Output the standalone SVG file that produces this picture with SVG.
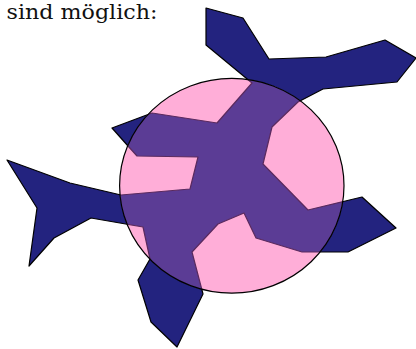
<svg xmlns="http://www.w3.org/2000/svg" width="416" height="349" viewBox="0 0 416 349">
<style>
.lbl{font-family:"DejaVu Serif","Liberation Serif",serif;font-size:21px;fill:#111}
.navy{fill:#23237f;stroke:#000;stroke-width:1.2;stroke-linejoin:round}
.inner{fill:#5b3c95;stroke:#5a2a5e;stroke-width:1.2;stroke-linejoin:round}
.disc{fill:#ffaed8}
.ring{fill:none;stroke:#000;stroke-width:1.2}
</style>
<defs>
<polygon id="shape" points="206,8 243,18 269,59 326,57 385,40 416,58 397,82 323,89 298,102 272,127 263,164 308,210 362,197 396,228 348,252 302,252 256,238 244,213 218,224 192,252 203,294 177,347 151,322 138,280 150,259 143,227 91,218 54,238 29,266 37,208 7,160 70,183 121,195 190,189 198,157 137,156 128,146 112,128 152,113 217,123 252,83 206,45"/>
<clipPath id="inCircle"><ellipse cx="231.8" cy="185.8" rx="112.2" ry="107.4"/></clipPath>
</defs>
<g id="caption"><text class="lbl" x="6.5" y="18.5" textLength="151" lengthAdjust="spacingAndGlyphs">sind möglich:</text></g>
<g id="star"><use href="#shape" class="navy"/></g>
<g id="circle">
<ellipse class="disc" cx="231.8" cy="185.8" rx="112.2" ry="107.4"/>
<g clip-path="url(#inCircle)"><use href="#shape" class="inner"/></g>
<ellipse class="ring" cx="231.8" cy="185.8" rx="112.2" ry="107.4"/>
</g>
<g id="connectors"/>
</svg>
